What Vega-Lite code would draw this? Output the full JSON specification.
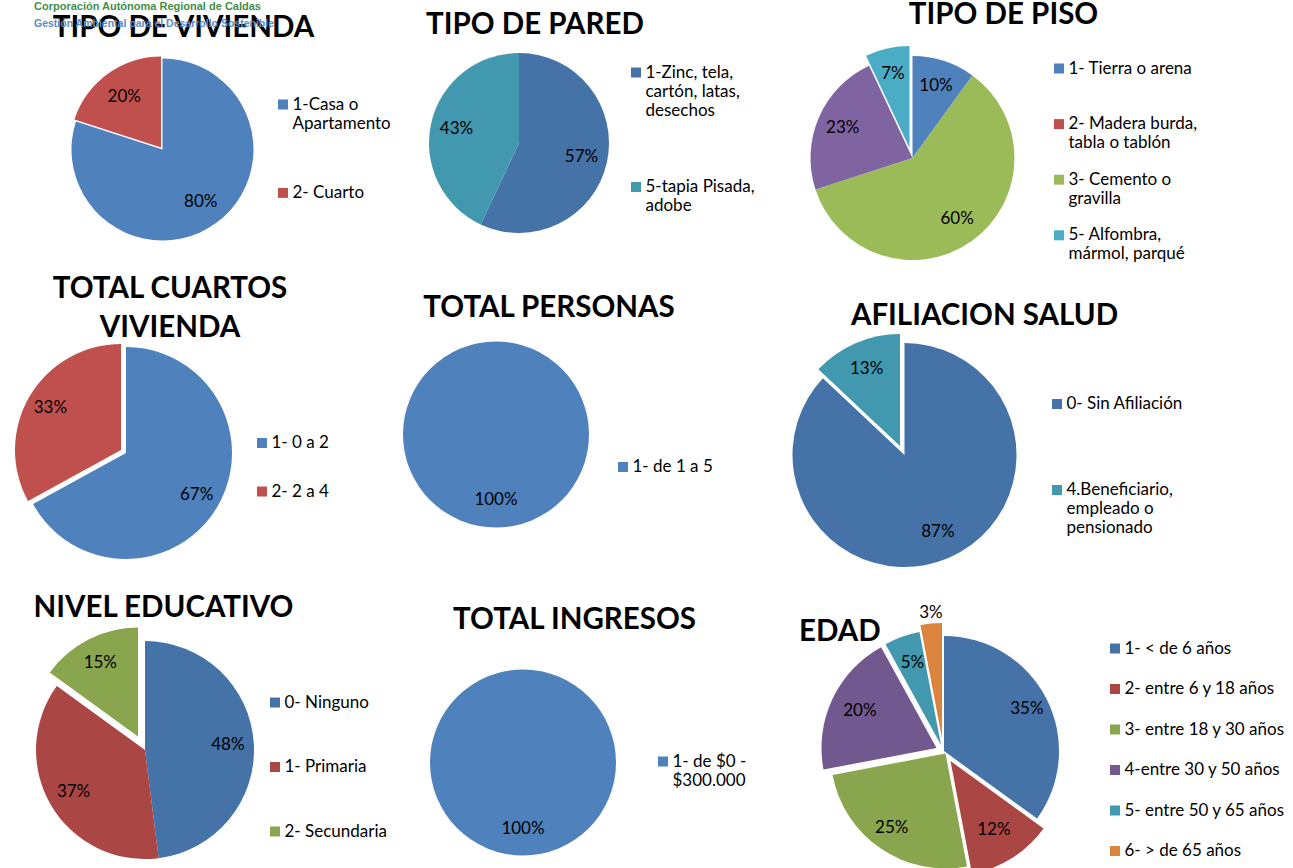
{
"$schema": "https://vega.github.io/schema/vega-lite/v6.json",
"padding": 0,
"background": "#ffffff",
"bounds": "flush",
"spacing": 0,
"columns": 3,
"align": "each",
"title": {"text": "Corporación Autónoma Regional de Caldas", "subtitle": "Gestión Ambiental para el Desarrollo Sostenible", "anchor": "start", "frame": "group", "orient": "top", "offset": -30, "dx": 34, "dy": 8, "baseline": "alphabetic", "font": "Liberation Sans", "fontSize": 11, "fontWeight": "bold", "color": "#3F8F45", "subtitleFont": "Liberation Sans", "subtitleFontSize": 10.5, "subtitleFontWeight": "bold", "subtitleColor": "#5B8CC6", "subtitlePadding": 6},
"config": {
  "view": {"stroke": null},
  "title": {"font": "Lato", "fontSize": 29.5, "fontWeight": "bold", "color": "#000000", "offset": 0, "baseline": "alphabetic", "frame": "group", "anchor": "middle"},
  "legend": {"orient": "none", "symbolType": "square", "symbolSize": 100, "symbolStrokeWidth": 0, "labelFont": "Lato", "labelFontSize": 17, "labelColor": "#000000", "labelOffset": 1, "labelBaseline": "middle", "labelLimit": 400, "padding": 0},
  "text": {"font": "Lato", "fontSize": 17},
  "arc": {"stroke": null}
},
"resolve": {"scale": {"color": "independent", "theta": "independent"}, "legend": {"color": "independent"}},
"concat": [
{
 "width": 325, "height": 299,
 "title": {"text": "TIPO DE VIVIENDA", "dx": 21, "dy": 47.5},
 "data": {"values": [{"c": "1-Casa o Apartamento", "v": 0.8}, {"c": "2- Cuarto", "v": 0.2}]},
 "encoding": {"color": {"field": "c", "type": "nominal", "scale": {"domain": ["1-Casa o Apartamento", "2- Cuarto"], "range": ["#4F81BD", "#C0504D"]}, "legend": {"title": null, "legendX": 274.5, "legendY": 96, "rowPadding": 51.4, "labelExpr": "datum.label == '1-Casa o Apartamento' ? ['1-Casa o', 'Apartamento'] : datum.label", "encode": {"labels": {"update": {"lineHeight": {"value": 21.5}}}}}}},
 "layer": [
  {"transform": [{"stack": "v", "groupby": [], "sort": [{"field": "c", "order": "ascending"}], "as": ["t0", "t1"]}, {"filter": "datum.c != '2- Cuarto'"}], "mark": {"type": "arc", "outerRadius": 91}, "encoding": {"theta": {"field": "t0", "type": "quantitative", "scale": {"domain": [0, 1]}, "stack": null}, "theta2": {"field": "t1"}}},
  {"transform": [{"stack": "v", "groupby": [], "sort": [{"field": "c", "order": "ascending"}], "as": ["t0", "t1"]}, {"filter": "datum.c == '2- Cuarto'"}], "mark": {"type": "arc", "outerRadius": 91, "xOffset": -1.5, "yOffset": -2}, "encoding": {"theta": {"field": "t0", "type": "quantitative", "scale": {"domain": [0, 1]}, "stack": null}, "theta2": {"field": "t1"}}},
  {"mark": {"type": "text", "radius": 65}, "encoding": {"theta": {"field": "v", "type": "quantitative", "stack": true, "scale": {"domain": [0, 1]}}, "order": {"field": "c", "type": "ordinal"}, "detail": {"field": "c"}, "text": {"field": "v", "type": "quantitative", "format": ".0%"}, "color": {"value": "#000000"}}}
 ]
},
{
 "width": 388, "height": 286,
 "title": {"text": "TIPO DE PARED", "dx": 16, "dy": 44.5},
 "data": {"values": [{"c": "1-Zinc, tela, cartón, latas, desechos", "v": 0.57}, {"c": "5-tapia Pisada, adobe", "v": 0.43}]},
 "encoding": {"color": {"field": "c", "type": "nominal", "scale": {"domain": ["1-Zinc, tela, cartón, latas, desechos", "5-tapia Pisada, adobe"], "range": ["#4572A7", "#4198AF"]}, "legend": {"title": null, "legendX": 302.5, "legendY": 64, "rowPadding": 58.5, "labelExpr": "datum.label == '1-Zinc, tela, cartón, latas, desechos' ? ['1-Zinc, tela,', 'cartón, latas,', 'desechos'] : datum.label == '5-tapia Pisada, adobe' ? ['5-tapia Pisada,', 'adobe'] : datum.label", "encode": {"labels": {"update": {"lineHeight": {"value": 21.5}}}}}}},
 "layer": [
  {"transform": [{"stack": "v", "groupby": [], "sort": [{"field": "c", "order": "ascending"}], "as": ["t0", "t1"]}], "mark": {"type": "arc", "outerRadius": 90}, "encoding": {"theta": {"field": "t0", "type": "quantitative", "scale": {"domain": [0, 1]}, "stack": null}, "theta2": {"field": "t1"}}},
  {"mark": {"type": "text", "radius": 64}, "encoding": {"theta": {"field": "v", "type": "quantitative", "stack": true, "scale": {"domain": [0, 1]}}, "order": {"field": "c", "type": "ordinal"}, "detail": {"field": "c"}, "text": {"field": "v", "type": "quantitative", "format": ".0%"}, "color": {"value": "#000000"}}}
 ]
},
{
 "width": 383, "height": 316,
 "title": {"text": "TIPO DE PISO", "dx": 91, "dy": 34.5},
 "data": {"values": [{"c": "1- Tierra o arena", "v": 0.10}, {"c": "2- Madera burda, tabla o tablón", "v": 0}, {"c": "3-  Cemento o gravilla", "v": 0.60}, {"c": "4- Baldosa, vinilo, tableta o ladrillo", "v": 0.23}, {"c": "5- Alfombra, mármol, parqué", "v": 0.07}]},
 "encoding": {"color": {"field": "c", "type": "nominal", "scale": {"domain": ["1- Tierra o arena", "2- Madera burda, tabla o tablón", "3-  Cemento o gravilla", "4- Baldosa, vinilo, tableta o ladrillo", "5- Alfombra, mármol, parqué"], "range": ["#4F81BD", "#C0504D", "#9BBB59", "#8064A2", "#4BACC6"]}, "legend": {"title": null, "values": ["1- Tierra o arena", "2- Madera burda, tabla o tablón", "3-  Cemento o gravilla", "5- Alfombra, mármol, parqué"], "legendX": 329.5, "legendY": 60, "rowPadding": 18.6, "gridAlign": "all", "labelExpr": "datum.label == '2- Madera burda, tabla o tablón' ? ['2- Madera burda,', 'tabla o tablón'] : datum.label == '3-  Cemento o gravilla' ? ['3-  Cemento o', 'gravilla'] : datum.label == '5- Alfombra, mármol, parqué' ? ['5- Alfombra,', 'mármol, parqué'] : datum.label", "encode": {"labels": {"update": {"lineHeight": {"value": 21.5}}}}}}},
 "layer": [
  {"transform": [{"stack": "v", "groupby": [], "sort": [{"field": "c", "order": "ascending"}], "as": ["t0", "t1"]}, {"filter": "datum.c != '5- Alfombra, mármol, parqué'"}], "mark": {"type": "arc", "outerRadius": 102}, "encoding": {"theta": {"field": "t0", "type": "quantitative", "scale": {"domain": [0, 1]}, "stack": null}, "theta2": {"field": "t1"}}},
  {"transform": [{"stack": "v", "groupby": [], "sort": [{"field": "c", "order": "ascending"}], "as": ["t0", "t1"]}, {"filter": "datum.c == '5- Alfombra, mármol, parqué'"}], "mark": {"type": "arc", "outerRadius": 102, "xOffset": -3, "yOffset": -10}, "encoding": {"theta": {"field": "t0", "type": "quantitative", "scale": {"domain": [0, 1]}, "stack": null}, "theta2": {"field": "t1"}}},
  {"mark": {"type": "text", "radius": 76}, "encoding": {"theta": {"field": "v", "type": "quantitative", "stack": true, "scale": {"domain": [0, 1]}}, "order": {"field": "c", "type": "ordinal"}, "detail": {"field": "c"}, "text": {"field": "v", "type": "quantitative", "format": ".0%"}, "color": {"value": "#000000"}, "opacity": {"condition": {"test": "datum.v == 0 || datum.c == '5- Alfombra, mármol, parqué'", "value": 0}, "value": 1}}},
  {"mark": {"type": "text", "radius": 76, "xOffset": -3, "yOffset": -10}, "encoding": {"theta": {"field": "v", "type": "quantitative", "stack": true, "scale": {"domain": [0, 1]}}, "order": {"field": "c", "type": "ordinal"}, "detail": {"field": "c"}, "text": {"field": "v", "type": "quantitative", "format": ".0%"}, "color": {"value": "#000000"}, "opacity": {"condition": {"test": "datum.c == '5- Alfombra, mármol, parqué'", "value": 1}, "value": 0}}}
 ]
},
{
 "width": 252, "height": 274,
 "title": {"text": ["TOTAL CUARTOS", "VIVIENDA"], "dx": 44, "dy": 31.5, "lineHeight": 39},
 "data": {"values": [{"c": "1- 0 a 2", "v": 0.67}, {"c": "2-  2 a 4", "v": 0.33}]},
 "encoding": {"color": {"field": "c", "type": "nominal", "scale": {"domain": ["1- 0 a 2", "2-  2 a 4"], "range": ["#4F81BD", "#C0504D"]}, "legend": {"title": null, "legendX": 253.5, "legendY": 118.5, "rowPadding": 30.5, "encode": {"labels": {"update": {"lineHeight": {"value": 21.5}}}}}}},
 "layer": [
  {"transform": [{"stack": "v", "groupby": [], "sort": [{"field": "c", "order": "ascending"}], "as": ["t0", "t1"]}, {"filter": "datum.c != '2-  2 a 4'"}], "mark": {"type": "arc", "outerRadius": 106}, "encoding": {"theta": {"field": "t0", "type": "quantitative", "scale": {"domain": [0, 1]}, "stack": null}, "theta2": {"field": "t1"}}},
  {"transform": [{"stack": "v", "groupby": [], "sort": [{"field": "c", "order": "ascending"}], "as": ["t0", "t1"]}, {"filter": "datum.c == '2-  2 a 4'"}], "mark": {"type": "arc", "outerRadius": 106, "xOffset": -5, "yOffset": -3}, "encoding": {"theta": {"field": "t0", "type": "quantitative", "scale": {"domain": [0, 1]}, "stack": null}, "theta2": {"field": "t1"}}},
  {"mark": {"type": "text", "radius": 82}, "encoding": {"theta": {"field": "v", "type": "quantitative", "stack": true, "scale": {"domain": [0, 1]}}, "order": {"field": "c", "type": "ordinal"}, "detail": {"field": "c"}, "text": {"field": "v", "type": "quantitative", "format": ".0%"}, "color": {"value": "#000000"}, "opacity": {"condition": {"test": "datum.c == '2-  2 a 4'", "value": 0}, "value": 1}}},
  {"mark": {"type": "text", "radius": 82, "xOffset": -5, "yOffset": -3}, "encoding": {"theta": {"field": "v", "type": "quantitative", "stack": true, "scale": {"domain": [0, 1]}}, "order": {"field": "c", "type": "ordinal"}, "detail": {"field": "c"}, "text": {"field": "v", "type": "quantitative", "format": ".0%"}, "color": {"value": "#000000"}, "opacity": {"condition": {"test": "datum.c == '2-  2 a 4'", "value": 1}, "value": 0}}}
 ]
},
{
 "width": 342, "height": 237,
 "title": {"text": "TOTAL PERSONAS", "dx": 53, "dy": 11.5},
 "data": {"values": [{"c": "1- de 1 a 5", "v": 1.0}]},
 "encoding": {"color": {"field": "c", "type": "nominal", "scale": {"domain": ["1- de 1 a 5"], "range": ["#4F81BD"]}, "legend": {"title": null, "legendX": 289.5, "legendY": 142.5, "encode": {"labels": {"update": {"lineHeight": {"value": 21.5}}}}}}},
 "layer": [
  {"transform": [{"stack": "v", "groupby": [], "sort": [{"field": "c", "order": "ascending"}], "as": ["t0", "t1"]}], "mark": {"type": "arc", "outerRadius": 93}, "encoding": {"theta": {"field": "t0", "type": "quantitative", "scale": {"domain": [0, 1]}, "stack": null}, "theta2": {"field": "t1"}}},
  {"mark": {"type": "text", "radius": 65.5}, "encoding": {"theta": {"field": "v", "type": "quantitative", "stack": true, "scale": {"domain": [0, 1]}}, "order": {"field": "c", "type": "ordinal"}, "detail": {"field": "c"}, "text": {"field": "v", "type": "quantitative", "format": ".0%"}, "color": {"value": "#000000"}}}
 ]
},
{
 "width": 367, "height": 278,
 "title": {"text": "AFILIACION SALUD", "dx": 80, "dy": 19.5},
 "data": {"values": [{"c": "0- Sin Afiliación", "v": 0.87}, {"c": "4.Beneficiario, empleado o pensionado", "v": 0.13}]},
 "encoding": {"color": {"field": "c", "type": "nominal", "scale": {"domain": ["0- Sin Afiliación", "4.Beneficiario, empleado o pensionado"], "range": ["#4572A7", "#4198AF"]}, "legend": {"title": null, "legendX": 327.5, "legendY": 79.5, "rowPadding": 68, "labelExpr": "datum.label == '4.Beneficiario, empleado o pensionado' ? ['4.Beneficiario,', 'empleado o', 'pensionado'] : datum.label", "encode": {"labels": {"update": {"lineHeight": {"value": 21.5}}}}}}},
 "layer": [
  {"transform": [{"stack": "v", "groupby": [], "sort": [{"field": "c", "order": "ascending"}], "as": ["t0", "t1"]}, {"filter": "datum.c != '4.Beneficiario, empleado o pensionado'"}], "mark": {"type": "arc", "outerRadius": 112}, "encoding": {"theta": {"field": "t0", "type": "quantitative", "scale": {"domain": [0, 1]}, "stack": null}, "theta2": {"field": "t1"}}},
  {"transform": [{"stack": "v", "groupby": [], "sort": [{"field": "c", "order": "ascending"}], "as": ["t0", "t1"]}, {"filter": "datum.c == '4.Beneficiario, empleado o pensionado'"}], "mark": {"type": "arc", "outerRadius": 112, "xOffset": -4.5, "yOffset": -9}, "encoding": {"theta": {"field": "t0", "type": "quantitative", "scale": {"domain": [0, 1]}, "stack": null}, "theta2": {"field": "t1"}}},
  {"mark": {"type": "text", "radius": 84}, "encoding": {"theta": {"field": "v", "type": "quantitative", "stack": true, "scale": {"domain": [0, 1]}}, "order": {"field": "c", "type": "ordinal"}, "detail": {"field": "c"}, "text": {"field": "v", "type": "quantitative", "format": ".0%"}, "color": {"value": "#000000"}, "opacity": {"condition": {"test": "datum.c == '4.Beneficiario, empleado o pensionado'", "value": 0}, "value": 1}}},
  {"mark": {"type": "text", "radius": 84, "xOffset": -4.5, "yOffset": -9}, "encoding": {"theta": {"field": "v", "type": "quantitative", "stack": true, "scale": {"domain": [0, 1]}}, "order": {"field": "c", "type": "ordinal"}, "detail": {"field": "c"}, "text": {"field": "v", "type": "quantitative", "format": ".0%"}, "color": {"value": "#000000"}, "opacity": {"condition": {"test": "datum.c == '4.Beneficiario, empleado o pensionado'", "value": 1}, "value": 0}}}
 ]
},
{
 "width": 290, "height": 312,
 "title": {"text": "NIVEL EDUCATIVO", "dx": 18.5, "dy": 33.5},
 "data": {"values": [{"c": "0- Ninguno", "v": 0.48}, {"c": "1- Primaria", "v": 0.37}, {"c": "2-  Secundaria", "v": 0.15}]},
 "encoding": {"color": {"field": "c", "type": "nominal", "scale": {"domain": ["0- Ninguno", "1- Primaria", "2-  Secundaria"], "range": ["#4572A7", "#AA4643", "#89A54E"]}, "legend": {"title": null, "legendX": 266.5, "legendY": 100, "rowPadding": 46.5, "encode": {"labels": {"update": {"lineHeight": {"value": 21.5}}}}}}},
 "layer": [
  {"transform": [{"stack": "v", "groupby": [], "sort": [{"field": "c", "order": "ascending"}], "as": ["t0", "t1"]}, {"filter": "datum.c != '2-  Secundaria'"}], "mark": {"type": "arc", "outerRadius": 109}, "encoding": {"theta": {"field": "t0", "type": "quantitative", "scale": {"domain": [0, 1]}, "stack": null}, "theta2": {"field": "t1"}}},
  {"transform": [{"stack": "v", "groupby": [], "sort": [{"field": "c", "order": "ascending"}], "as": ["t0", "t1"]}, {"filter": "datum.c == '2-  Secundaria'"}], "mark": {"type": "arc", "outerRadius": 109, "xOffset": -7, "yOffset": -13.5}, "encoding": {"theta": {"field": "t0", "type": "quantitative", "scale": {"domain": [0, 1]}, "stack": null}, "theta2": {"field": "t1"}}},
  {"mark": {"type": "text", "radius": 83}, "encoding": {"theta": {"field": "v", "type": "quantitative", "stack": true, "scale": {"domain": [0, 1]}}, "order": {"field": "c", "type": "ordinal"}, "detail": {"field": "c"}, "text": {"field": "v", "type": "quantitative", "format": ".0%"}, "color": {"value": "#000000"}, "opacity": {"condition": {"test": "datum.c == '2-  Secundaria'", "value": 0}, "value": 1}}},
  {"mark": {"type": "text", "radius": 83, "xOffset": -7, "yOffset": -13.5}, "encoding": {"theta": {"field": "v", "type": "quantitative", "stack": true, "scale": {"domain": [0, 1]}}, "order": {"field": "c", "type": "ordinal"}, "detail": {"field": "c"}, "text": {"field": "v", "type": "quantitative", "format": ".0%"}, "color": {"value": "#000000"}, "opacity": {"condition": {"test": "datum.c == '2-  Secundaria'", "value": 1}, "value": 0}}}
 ]
},
{
 "width": 396, "height": 337,
 "title": {"text": "TOTAL INGRESOS", "dx": 51.5, "dy": 45.5},
 "data": {"values": [{"c": "1-  de $0 - $300.000", "v": 1.0}]},
 "encoding": {"color": {"field": "c", "type": "nominal", "scale": {"domain": ["1-  de $0 - $300.000"], "range": ["#4F81BD"]}, "legend": {"title": null, "legendX": 329.5, "legendY": 159, "labelExpr": "datum.label == '1-  de $0 - $300.000' ? ['1-  de $0 -', '$300.000'] : datum.label", "encode": {"labels": {"update": {"lineHeight": {"value": 21.5}}}}}}},
 "layer": [
  {"transform": [{"stack": "v", "groupby": [], "sort": [{"field": "c", "order": "ascending"}], "as": ["t0", "t1"]}], "mark": {"type": "arc", "outerRadius": 93}, "encoding": {"theta": {"field": "t0", "type": "quantitative", "scale": {"domain": [0, 1]}, "stack": null}, "theta2": {"field": "t1"}}},
  {"mark": {"type": "text", "radius": 66.5}, "encoding": {"theta": {"field": "v", "type": "quantitative", "stack": true, "scale": {"domain": [0, 1]}}, "order": {"field": "c", "type": "ordinal"}, "detail": {"field": "c"}, "text": {"field": "v", "type": "quantitative", "format": ".0%"}, "color": {"value": "#000000"}}}
 ]
},
{
 "width": 446, "height": 314,
 "title": {"text": "EDAD", "anchor": "start", "dx": 78, "dy": 57.5},
 "data": {"values": [{"c": "1- < de 6 años", "v": 0.35}, {"c": "2- entre 6 y 18 años", "v": 0.12}, {"c": "3- entre 18 y 30 años", "v": 0.25}, {"c": "4-entre 30 y 50 años", "v": 0.20}, {"c": "5- entre 50 y 65 años", "v": 0.05}, {"c": "6- >  de 65 años", "v": 0.03}]},
 "encoding": {"color": {"field": "c", "type": "nominal", "scale": {"domain": ["1- < de 6 años", "2- entre 6 y 18 años", "3- entre 18 y 30 años", "4-entre 30 y 50 años", "5- entre 50 y 65 años", "6- >  de 65 años"], "range": ["#4572A7", "#AA4643", "#89A54E", "#71588F", "#4198AF", "#DB843D"]}, "legend": {"title": null, "legendX": 385.5, "legendY": 46, "rowPadding": 22.5, "encode": {"labels": {"update": {"lineHeight": {"value": 21.5}}}}}}},
 "layer": [
  {"transform": [{"stack": "v", "groupby": [], "sort": [{"field": "c", "order": "ascending"}], "as": ["t0", "t1"]}, {"filter": "datum.c == '1- < de 6 años'"}], "mark": {"type": "arc", "outerRadius": 115}, "encoding": {"theta": {"field": "t0", "type": "quantitative", "scale": {"domain": [0, 1]}, "stack": null}, "theta2": {"field": "t1"}}},
  {"transform": [{"stack": "v", "groupby": [], "sort": [{"field": "c", "order": "ascending"}], "as": ["t0", "t1"]}, {"filter": "datum.c == '2- entre 6 y 18 años'"}], "mark": {"type": "arc", "outerRadius": 115, "xOffset": 6.5, "yOffset": 10}, "encoding": {"theta": {"field": "t0", "type": "quantitative", "scale": {"domain": [0, 1]}, "stack": null}, "theta2": {"field": "t1"}}},
  {"transform": [{"stack": "v", "groupby": [], "sort": [{"field": "c", "order": "ascending"}], "as": ["t0", "t1"]}, {"filter": "datum.c == '3- entre 18 y 30 años'"}], "mark": {"type": "arc", "outerRadius": 115, "xOffset": 1.5, "yOffset": 2.5}, "encoding": {"theta": {"field": "t0", "type": "quantitative", "scale": {"domain": [0, 1]}, "stack": null}, "theta2": {"field": "t1"}}},
  {"transform": [{"stack": "v", "groupby": [], "sort": [{"field": "c", "order": "ascending"}], "as": ["t0", "t1"]}, {"filter": "datum.c == '4-entre 30 y 50 años'"}], "mark": {"type": "arc", "outerRadius": 115, "xOffset": -7.5, "yOffset": -3}, "encoding": {"theta": {"field": "t0", "type": "quantitative", "scale": {"domain": [0, 1]}, "stack": null}, "theta2": {"field": "t1"}}},
  {"transform": [{"stack": "v", "groupby": [], "sort": [{"field": "c", "order": "ascending"}], "as": ["t0", "t1"]}, {"filter": "datum.c == '5- entre 50 y 65 años'"}], "mark": {"type": "arc", "outerRadius": 115, "xOffset": -3, "yOffset": -6}, "encoding": {"theta": {"field": "t0", "type": "quantitative", "scale": {"domain": [0, 1]}, "stack": null}, "theta2": {"field": "t1"}}},
  {"transform": [{"stack": "v", "groupby": [], "sort": [{"field": "c", "order": "ascending"}], "as": ["t0", "t1"]}, {"filter": "datum.c == '6- >  de 65 años'"}], "mark": {"type": "arc", "outerRadius": 115, "xOffset": -2, "yOffset": -13}, "encoding": {"theta": {"field": "t0", "type": "quantitative", "scale": {"domain": [0, 1]}, "stack": null}, "theta2": {"field": "t1"}}},
  {"mark": {"type": "text", "radius": 93}, "encoding": {"theta": {"field": "v", "type": "quantitative", "stack": true, "scale": {"domain": [0, 1]}}, "order": {"field": "c", "type": "ordinal"}, "detail": {"field": "c"}, "text": {"field": "v", "type": "quantitative", "format": ".0%"}, "color": {"value": "#000000"}, "opacity": {"condition": {"test": "datum.c == '6- >  de 65 años'", "value": 0}, "value": 1}}},
  {"mark": {"type": "text", "radius": 139}, "encoding": {"theta": {"field": "v", "type": "quantitative", "stack": true, "scale": {"domain": [0, 1]}}, "order": {"field": "c", "type": "ordinal"}, "detail": {"field": "c"}, "text": {"field": "v", "type": "quantitative", "format": ".0%"}, "color": {"value": "#000000"}, "opacity": {"condition": {"test": "datum.c == '6- >  de 65 años'", "value": 1}, "value": 0}}}
 ]
}
]
}
